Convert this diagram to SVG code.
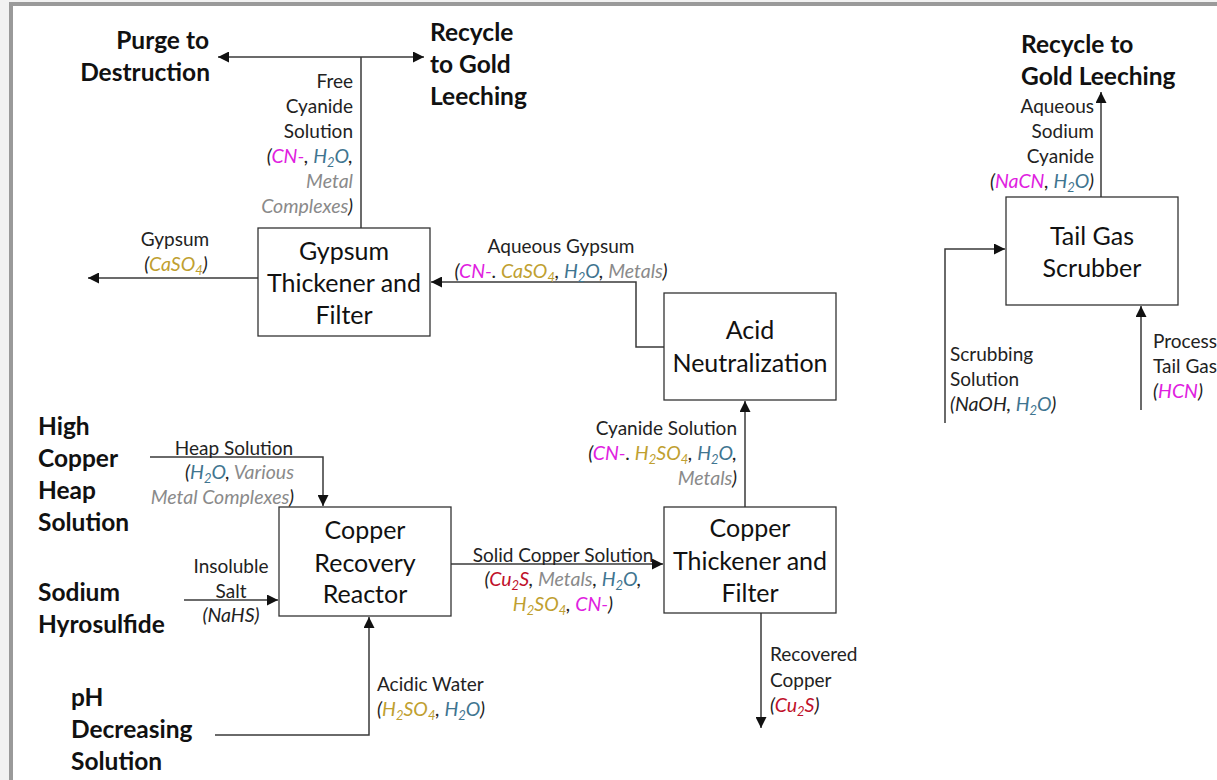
<svg xmlns="http://www.w3.org/2000/svg" width="1217" height="780" viewBox="0 0 1217 780">
<style>
.box{fill:#fff;stroke:#333;stroke-width:1.3}
.bt{font-family:Lato,"Liberation Sans",sans-serif;font-size:25px;fill:#111;text-anchor:middle}
.big{font-family:Lato,"Liberation Sans",sans-serif;font-size:24.5px;font-weight:bold;fill:#111}
.lb{font-family:Lato,"Liberation Sans",sans-serif;font-size:19px;fill:#222}
.it{font-style:italic;font-size:19.5px}
.cn{fill:#e020e0}
.w{fill:#3f7590}
.au{fill:#c0a030}
.m{fill:#8a8a8a}
.cu{fill:#c0102a}
.sub{font-size:13px;baseline-shift:-4px}
.ln{fill:none;stroke:#3a3a3a;stroke-width:1.5}
</style>
<defs>
<marker id="ah" viewBox="0 0 10 10" refX="10" refY="5" markerWidth="12" markerHeight="11" markerUnits="userSpaceOnUse" orient="auto-start-reverse">
<path d="M0,0 L10,5 L0,10 z" fill="#111"/>
</marker>
</defs>
<rect x="0" y="0" width="1217" height="780" fill="#f2f2f2"/>
<rect x="9" y="2" width="1208" height="778" fill="#9a9a9a"/>
<rect x="13" y="6" width="1204" height="774" fill="#fff"/>

<g id="connectors">
<path class="ln" d="M218,57 L424,57" marker-start="url(#ah)" marker-end="url(#ah)"/>
<path class="ln" d="M361,228 L361,57"/>
<path class="ln" d="M258,278 L88,278" marker-end="url(#ah)"/>
<path class="ln" d="M664,347 L636,347 L636,282 L431,282" marker-end="url(#ah)"/>
<path class="ln" d="M745,507 L745,401" marker-end="url(#ah)"/>
<path class="ln" d="M451,564 L663,564" marker-end="url(#ah)"/>
<path class="ln" d="M761,613 L761,728" marker-end="url(#ah)"/>
<path class="ln" d="M150,457 L323,457 L323,506" marker-end="url(#ah)"/>
<path class="ln" d="M184,600 L278,600" marker-end="url(#ah)"/>
<path class="ln" d="M215,735 L369,735 L369,617" marker-end="url(#ah)"/>
<path class="ln" d="M1101,197 L1101,92" marker-end="url(#ah)"/>
<path class="ln" d="M945,423 L945,249 L1005,249" marker-end="url(#ah)"/>
<path class="ln" d="M1141,410 L1141,306" marker-end="url(#ah)"/>
</g>

<g id="gypsum-thickener">
<rect class="box" x="258" y="228" width="172" height="108"/>
<text class="bt" x="344" y="260">Gypsum</text>
<text class="bt" x="344" y="292">Thickener and</text>
<text class="bt" x="344" y="324">Filter</text>
</g>
<g id="acid-neutralization">
<rect class="box" x="664" y="293" width="172" height="107"/>
<text class="bt" x="750" y="339">Acid</text>
<text class="bt" x="750" y="372">Neutralization</text>
</g>
<g id="copper-recovery-reactor">
<rect class="box" x="279" y="507" width="172" height="109"/>
<text class="bt" x="365" y="539">Copper</text>
<text class="bt" x="365" y="572">Recovery</text>
<text class="bt" x="365" y="603">Reactor</text>
</g>
<g id="copper-thickener">
<rect class="box" x="664" y="507" width="172" height="106"/>
<text class="bt" x="750" y="537">Copper</text>
<text class="bt" x="750" y="570">Thickener and</text>
<text class="bt" x="750" y="602">Filter</text>
</g>
<g id="tail-gas-scrubber">
<rect class="box" x="1006" y="197" width="172" height="108"/>
<text class="bt" x="1092" y="245">Tail Gas</text>
<text class="bt" x="1092" y="277">Scrubber</text>
</g>

<g id="purge">
<text class="big" x="209" y="49" text-anchor="end">Purge to</text>
<text class="big" x="210" y="81" text-anchor="end">Destruction</text>
</g>
<g id="recycle-gold">
<text class="big" x="430" y="41">Recycle</text>
<text class="big" x="430" y="73">to Gold</text>
<text class="big" x="430" y="105">Leeching</text>
</g>
<g id="recycle-gold-2">
<text class="big" x="1021" y="53">Recycle to</text>
<text class="big" x="1021" y="85">Gold Leeching</text>
</g>
<g id="high-copper">
<text class="big" x="38" y="435">High</text>
<text class="big" x="38" y="467">Copper</text>
<text class="big" x="38" y="499">Heap</text>
<text class="big" x="38" y="531">Solution</text>
</g>
<g id="sodium">
<text class="big" x="38" y="601">Sodium</text>
<text class="big" x="38" y="633">Hyrosulfide</text>
</g>
<g id="ph">
<text class="big" x="71" y="706">pH</text>
<text class="big" x="71" y="738">Decreasing</text>
<text class="big" x="71" y="770">Solution</text>
</g>

<g id="labels">
<text class="lb" text-anchor="end" x="353" y="88">Free</text>
<text class="lb" text-anchor="end" x="353" y="113">Cyanide</text>
<text class="lb" text-anchor="end" x="353" y="138">Solution</text>
<text class="lb it" text-anchor="end" x="353" y="163">(<tspan class="cn">CN-</tspan>, <tspan class="w">H<tspan class="sub">2</tspan>O</tspan>,</text>
<text class="lb it m" text-anchor="end" x="353" y="188">Metal</text>
<text class="lb it" text-anchor="end" x="353" y="213"><tspan class="m">Complexes</tspan>)</text>

<text class="lb" text-anchor="middle" x="175" y="246">Gypsum</text>
<text class="lb it" text-anchor="middle" x="176" y="271">(<tspan class="au">CaSO<tspan class="sub">4</tspan></tspan>)</text>

<text class="lb" text-anchor="middle" x="561" y="253">Aqueous Gypsum</text>
<text class="lb it" text-anchor="middle" x="561" y="278">(<tspan class="cn">CN-</tspan>. <tspan class="au">CaSO<tspan class="sub">4</tspan></tspan>, <tspan class="w">H<tspan class="sub">2</tspan>O</tspan>, <tspan class="m">Metals</tspan>)</text>

<text class="lb" text-anchor="end" x="737" y="435">Cyanide Solution</text>
<text class="lb it" text-anchor="end" x="737" y="460">(<tspan class="cn">CN-</tspan>. <tspan class="au">H<tspan class="sub">2</tspan>SO<tspan class="sub">4</tspan></tspan>, <tspan class="w">H<tspan class="sub">2</tspan>O</tspan>,</text>
<text class="lb it" text-anchor="end" x="737" y="485"><tspan class="m">Metals</tspan>)</text>

<text class="lb" text-anchor="middle" x="563" y="562">Solid Copper Solution</text>
<text class="lb it" text-anchor="middle" x="563" y="586">(<tspan class="cu">Cu<tspan class="sub">2</tspan>S</tspan>, <tspan class="m">Metals</tspan>, <tspan class="w">H<tspan class="sub">2</tspan>O</tspan>,</text>
<text class="lb it" text-anchor="middle" x="563" y="611"><tspan class="au">H<tspan class="sub">2</tspan>SO<tspan class="sub">4</tspan></tspan>, <tspan class="cn">CN-</tspan>)</text>

<text class="lb" x="770" y="661">Recovered</text>
<text class="lb" x="770" y="687">Copper</text>
<text class="lb it" x="770" y="712">(<tspan class="cu">Cu<tspan class="sub">2</tspan>S</tspan>)</text>

<text class="lb" text-anchor="middle" x="234" y="455">Heap Solution</text>
<text class="lb it" text-anchor="end" x="294" y="479">(<tspan class="w">H<tspan class="sub">2</tspan>O</tspan>, <tspan class="m">Various</tspan></text>
<text class="lb it" text-anchor="end" x="294" y="504"><tspan class="m">Metal Complexes</tspan>)</text>

<text class="lb" text-anchor="middle" x="231" y="573">Insoluble</text>
<text class="lb" text-anchor="middle" x="231" y="598">Salt</text>
<text class="lb it" text-anchor="middle" x="231" y="622">(NaHS)</text>

<text class="lb" x="377" y="691">Acidic Water</text>
<text class="lb it" x="377" y="716">(<tspan class="au">H<tspan class="sub">2</tspan>SO<tspan class="sub">4</tspan></tspan>, <tspan class="w">H<tspan class="sub">2</tspan>O</tspan>)</text>

<text class="lb" text-anchor="end" x="1094" y="113">Aqueous</text>
<text class="lb" text-anchor="end" x="1094" y="138">Sodium</text>
<text class="lb" text-anchor="end" x="1094" y="163">Cyanide</text>
<text class="lb it" text-anchor="end" x="1094" y="188">(<tspan class="cn">NaCN</tspan>, <tspan class="w">H<tspan class="sub">2</tspan>O</tspan>)</text>

<text class="lb" x="950" y="361">Scrubbing</text>
<text class="lb" x="950" y="386">Solution</text>
<text class="lb it" x="950" y="411">(NaOH, <tspan class="w">H<tspan class="sub">2</tspan>O</tspan>)</text>

<text class="lb" x="1153" y="348">Process</text>
<text class="lb" x="1153" y="373">Tail Gas</text>
<text class="lb it" x="1153" y="398">(<tspan class="cn">HCN</tspan>)</text>
</g>
</svg>
